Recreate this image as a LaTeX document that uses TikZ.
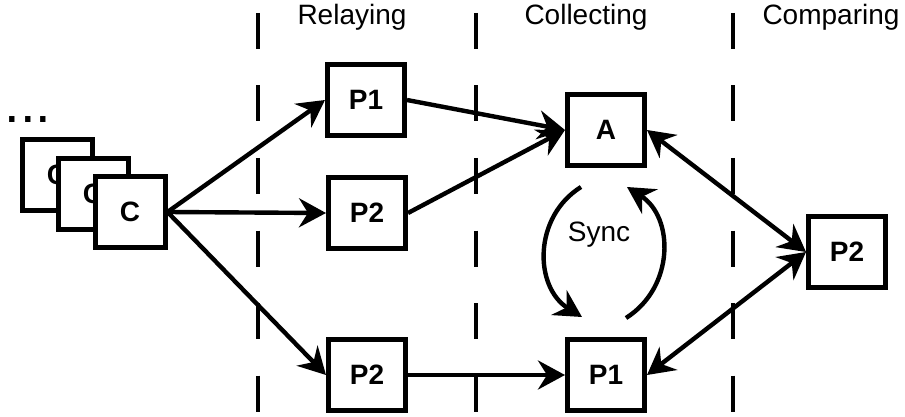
\documentclass[tikz,border=0pt]{standalone}
\usepackage{fontspec}
\setmainfont{Liberation Sans}
\usetikzlibrary{arrows.meta}

\tikzset{
	>={Stealth[length=13.5pt,width=14.5pt,inset=4.5pt]},
	box/.style={draw, line width=2.5pt, fill=white, inner sep=0pt,
		minimum width=38.5pt, minimum height=35.5pt,
		font=\fontsize{14}{16}\selectfont\bfseries},
	stackbox/.style={box, minimum width=35pt},
	flow/.style={->, line width=2.2pt},
	phase/.style={line width=2pt, dash pattern=on 18pt off 18.25pt},
	heading/.style={anchor=base, font=\fontsize{14}{16}\selectfont},
}

\begin{document}
\begin{tikzpicture}[x=0.5pt,y=-0.5pt]
	\useasboundingbox (0,0) rectangle (905,417);
	
	% Phase separators
	\foreach \x in {258,476,733}{
		\draw[phase] (\x,13) -- (\x,412);
	}
	
	% Phase headings
	\node[heading] (relaying) at (352,25) {Relaying};
	\node[heading] (collecting) at (586,25) {Collecting};
	\node[heading] (comparing) at (831,25) {Comparing};
	
	% Stack of clients
	\node[anchor=base, inner sep=0pt, font=\fontsize{28}{28}\selectfont] (more) at (28,123) {...};
	\node[stackbox] (c1) at (57,175) {C};
	\node[stackbox] (c2) at (93,194) {C};
	\node[stackbox] (c3) at (130,212) {C};
	
	% Relaying replicas
	\node[box] (relayA) at (366,100) {P1};
	\node[box] (relayB) at (367,213) {P2};
	\node[box] (relayC) at (367,375) {P2};
	
	% Collecting replicas
	\node[box] (collA) at (606,130) {A};
	\node[box] (collB) at (606,375) {P1};
	
	% Comparing replica
	\node[box] (comp) at (847,252) {P2};
	
	% Requests from the client
	\draw[flow] (c3.east) -- (relayA.west);
	\draw[flow] (c3.east) -- (relayB.west);
	\draw[flow] (c3.east) -- (relayC.west);
	
	% Relayed to the collectors
	\draw[flow] (relayA.east) -- (collA.west);
	\draw[flow] (relayB.east) -- (collA.west);
	\draw[flow] (relayC.east) -- (collB.west);
	
	% Exchange with the comparing replica
	\draw[flow, <->] (collA.east) -- (comp.west);
	\draw[flow, <->] (collB.east) -- (comp.west);
	
	% Sync loop between the collectors
	\draw[flow] (581,187) .. controls (533,217) and (534,287) .. (582,317);
	\draw[flow] (626,318) .. controls (675,287) and (674,217) .. (627,187);
	\node[font=\fontsize{14}{16}\selectfont] (sync) at (599,235) {Sync};
\end{tikzpicture}
\end{document}
